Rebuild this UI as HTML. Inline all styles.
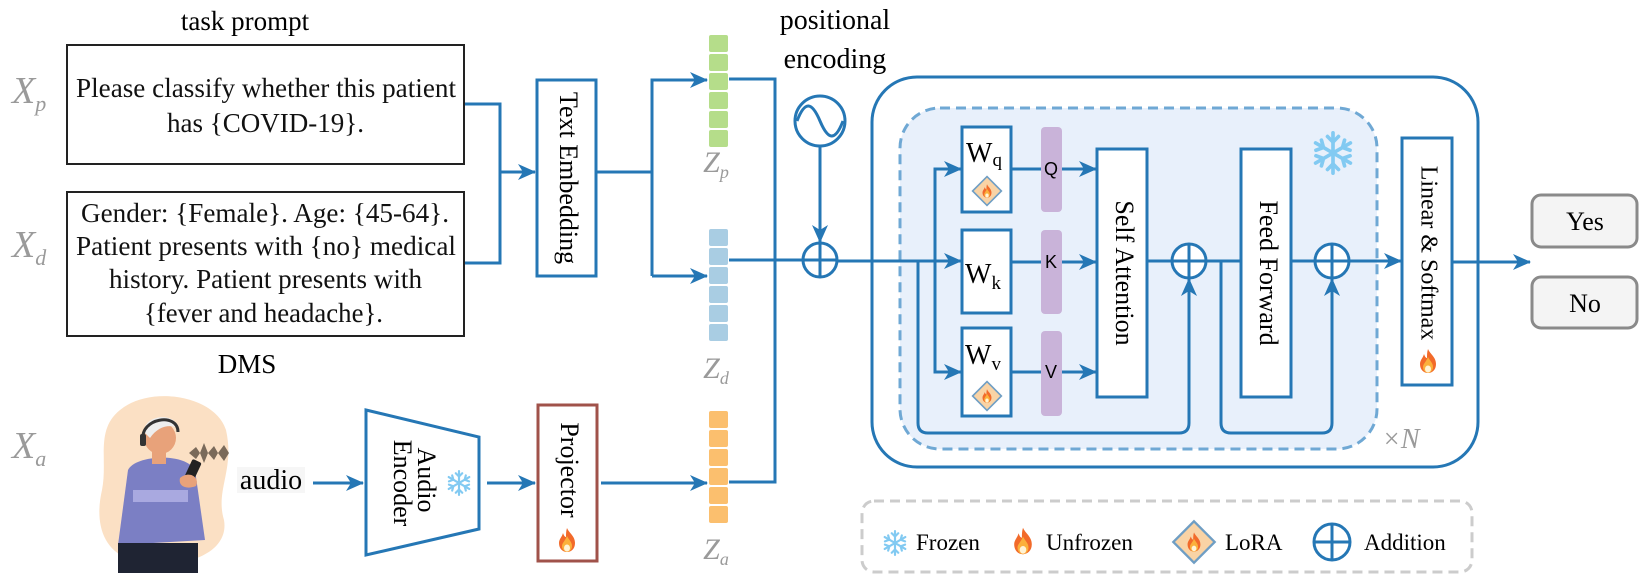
<!DOCTYPE html>
<html><head><meta charset="utf-8"><style>
html,body{margin:0;padding:0;background:#fff;}
svg{display:block;}
</style></head><body>
<svg width="1643" height="575" viewBox="0 0 1643 575" xmlns="http://www.w3.org/2000/svg" font-family="'Liberation Serif', serif">
<defs>
<marker id="ar" markerWidth="18" markerHeight="16" refX="17" refY="8" orient="auto" markerUnits="userSpaceOnUse" viewBox="0 0 18 16">
<path d="M0,0 L18,8 L0,16 L5,8 Z" fill="#2577b5"/></marker>
<symbol id="fire" viewBox="0 0 20 26">
<path d="M10 1 C12 6 18 9 18 16 C18 22 14 25 10 25 C6 25 2 22 2 16 C2 12 5 10 6 6 C7 9 8 10 9 10 C9 7 9 4 10 1Z" fill="#f26a2a"/>
<path d="M10 9 C12 13 15 15 15 19 C15 23 12 25 10 25 C8 25 5 23 5 19 C5 16 8 14 10 9Z" fill="#fbb03b"/>
<ellipse cx="10" cy="21" rx="3" ry="3.5" fill="#fff3d6"/>
</symbol>
<symbol id="snow" viewBox="-12 -12 24 24">
<g stroke="#82caf2" stroke-width="2" stroke-linecap="round" fill="none">
<path d="M0 -11V11M-9.5 -5.5L9.5 5.5M-9.5 5.5L9.5 -5.5"/>
<path d="M-3 -9L0 -6L3 -9M-3 9L0 6L3 9M-9.3 -1.5L-5.2 -3L-6.3 -7M9.3 1.5L5.2 3L6.3 7M-9.3 1.5L-5.2 3L-6.3 7M9.3 -1.5L5.2 -3L6.3 -7"/>
</g></symbol>
<symbol id="lora" viewBox="0 0 40 40">
<path d="M20 2 L38 20 L20 38 L2 20Z" fill="#f9d3a5" stroke="#6f9ec4" stroke-width="2"/>
<use href="#fire" x="13" y="10" width="14" height="20"/>
</symbol>
</defs>

<g fill="none" stroke="#2577b5" stroke-width="3">
<path d="M464 104H500V263H464"/>
<path d="M500 172H535" marker-end="url(#ar)"/>
<path d="M596 172H652"/>
<path d="M706 80H652V276"/>
<path d="M652 80H707" marker-end="url(#ar)"/>
<path d="M652 276H707" marker-end="url(#ar)"/>
<path d="M313 483H363" marker-end="url(#ar)"/>
<path d="M487 483H535" marker-end="url(#ar)"/>
<path d="M601 483H707" marker-end="url(#ar)"/>
<path d="M729 79H775V482H729"/>
<path d="M729 260H803"/>
<path d="M820 147V242" marker-end="url(#ar)"/>
</g>

<rect x="67" y="45" width="397" height="119" fill="#fff" stroke="#222" stroke-width="2"/>
<rect x="67" y="192" width="397" height="144" fill="#fff" stroke="#222" stroke-width="2"/>
<text x="245" y="30" font-size="27" text-anchor="middle">task prompt</text>
<g font-size="27" fill="#111" lengthAdjust="spacingAndGlyphs">
<text x="76" y="97" textLength="380" lengthAdjust="spacingAndGlyphs">Please classify whether this patient</text>
<text x="167" y="132" textLength="197" lengthAdjust="spacingAndGlyphs">has {COVID-19}.</text>
<text x="81" y="222" textLength="368" lengthAdjust="spacingAndGlyphs">Gender: {Female}. Age: {45-64}.</text>
<text x="76" y="255" textLength="380" lengthAdjust="spacingAndGlyphs">Patient presents with {no} medical</text>
<text x="109" y="288" textLength="313" lengthAdjust="spacingAndGlyphs">history. Patient presents with</text>
<text x="144" y="322" textLength="239" lengthAdjust="spacingAndGlyphs">{fever and headache}.</text>
</g>
<text x="247" y="373" font-size="27" text-anchor="middle">DMS</text>
<g font-size="38" font-style="italic" fill="#9a9a9a">
<text x="12" y="103">X<tspan font-size="22" dy="8">p</tspan></text>
<text x="12" y="257">X<tspan font-size="22" dy="8">d</tspan></text>
<text x="12" y="458">X<tspan font-size="22" dy="8">a</tspan></text>
</g>
<rect x="537" y="80" width="59" height="196" fill="#fff" stroke="#2577b5" stroke-width="3"/>
<text transform="translate(566,178) rotate(90)" font-size="26" text-anchor="middle" dominant-baseline="middle">Text Embedding</text>

<g fill="#b5dd8a"><rect x="709" y="35" width="19" height="17" rx="2"/><rect x="709" y="54" width="19" height="17" rx="2"/><rect x="709" y="73" width="19" height="17" rx="2"/><rect x="709" y="92" width="19" height="17" rx="2"/><rect x="709" y="111" width="19" height="17" rx="2"/><rect x="709" y="130" width="19" height="17" rx="2"/></g>
<g fill="#a9cde3"><rect x="709" y="229" width="19" height="17" rx="2"/><rect x="709" y="248" width="19" height="17" rx="2"/><rect x="709" y="267" width="19" height="17" rx="2"/><rect x="709" y="286" width="19" height="17" rx="2"/><rect x="709" y="305" width="19" height="17" rx="2"/><rect x="709" y="324" width="19" height="17" rx="2"/></g>
<g fill="#fbbf6e"><rect x="709" y="411" width="19" height="17" rx="2"/><rect x="709" y="430" width="19" height="17" rx="2"/><rect x="709" y="449" width="19" height="17" rx="2"/><rect x="709" y="468" width="19" height="17" rx="2"/><rect x="709" y="487" width="19" height="17" rx="2"/><rect x="709" y="506" width="19" height="17" rx="2"/></g>
<g font-size="30" font-style="italic" fill="#9a9a9a" text-anchor="middle">
<text x="716" y="172">Z<tspan font-size="18" dy="6">p</tspan></text>
<text x="716" y="378">Z<tspan font-size="18" dy="6">d</tspan></text>
<text x="716" y="559">Z<tspan font-size="18" dy="6">a</tspan></text>
</g>

<path d="M120 410 C150 385 215 395 226 430 C235 470 215 490 224 520 C230 555 180 570 140 562 C100 555 95 520 102 490 C108 460 95 430 120 410Z" fill="#fbe0c4"/>
<path d="M128 470 C135 455 185 452 195 470 L205 540 L118 545Z" fill="#7b7fc4"/>
<rect x="133" y="490" width="55" height="12" fill="#a9a9e0"/>
<rect x="118" y="543" width="80" height="30" fill="#1f2433"/>
<rect x="152" y="450" width="14" height="14" fill="#e8a27a"/>
<circle cx="160" cy="438" r="16" fill="#e8a27a"/>
<path d="M144 432 C144 414 176 412 178 428 C170 424 158 426 150 438Z" fill="#eeeeee"/>
<path d="M143 440 C140 418 178 412 178 432" fill="none" stroke="#333" stroke-width="3"/>
<rect x="140" y="434" width="6" height="12" rx="2" fill="#333"/>
<rect x="188" y="460" width="10" height="20" rx="2" transform="rotate(25 193 470)" fill="#222"/>
<path d="M180 478 C190 470 200 478 196 486 C186 490 178 486 180 478Z" fill="#e8a27a"/>
<path d="M189 453 L196 447 L200 453 L204 443 L208 453 L214 446 L218 453 L224 445 L229 453 L237 453 L229 453 L224 461 L218 453 L214 460 L208 453 L204 463 L200 453 L196 459Z" fill="#7a6a5a"/>
<rect x="237" y="467" width="68" height="26" fill="#f6f6f6"/>
<text x="271" y="489" font-size="28" text-anchor="middle">audio</text>
<path d="M366 410 L479 437 L479 529 L366 555Z" fill="#fff" stroke="#2577b5" stroke-width="3"/>
<text transform="translate(424,480) rotate(90)" font-size="26" text-anchor="middle" dominant-baseline="middle">Audio</text>
<text transform="translate(400,483) rotate(90)" font-size="26" text-anchor="middle" dominant-baseline="middle">Encoder</text>
<use href="#snow" x="446" y="469" width="26" height="28"/>
<rect x="538" y="405" width="59" height="156" fill="#fff" stroke="#a0524a" stroke-width="3"/>
<text transform="translate(567,470) rotate(90)" font-size="26" text-anchor="middle" dominant-baseline="middle">Projector</text>
<use href="#fire" x="557" y="527" width="20" height="26"/>

<text x="835" y="29" font-size="28" text-anchor="middle">positional</text>
<text x="835" y="68" font-size="28" text-anchor="middle">encoding</text>
<circle cx="820" cy="121" r="25" fill="#fff" stroke="#2577b5" stroke-width="3"/>
<path d="M797 121 C805 100 812 102 820 121 C828 140 835 142 843 121" fill="none" stroke="#2577b5" stroke-width="3"/>

<rect x="872" y="77" width="606" height="390" rx="45" fill="#fff" stroke="#2577b5" stroke-width="3"/>
<rect x="900" y="108" width="477" height="341" rx="40" fill="#e8f0fb" stroke="#6fa8d4" stroke-width="3" stroke-dasharray="10 6"/>
<g fill="none" stroke="#2577b5" stroke-width="3">
<path d="M837 261H961" marker-end="url(#ar)"/>
<path d="M960 169H935V372H960"/>
<path d="M935 169H961" marker-end="url(#ar)"/>
<path d="M935 372H961" marker-end="url(#ar)"/>
<path d="M918 261V423Q918 433 928 433H1179Q1189 433 1189 423V279" marker-end="url(#ar)"/>
<path d="M1011 169H1096" marker-end="url(#ar)"/>
<path d="M1011 262H1096" marker-end="url(#ar)"/>
<path d="M1011 372H1096" marker-end="url(#ar)"/>
<path d="M1147 261H1172"/>
<path d="M1206 261H1241"/>
<path d="M1221 261V423Q1221 433 1231 433H1322Q1332 433 1332 423V279" marker-end="url(#ar)"/>
<path d="M1291 261H1315"/>
<path d="M1349 261H1401" marker-end="url(#ar)"/>
<path d="M1452 262H1530" marker-end="url(#ar)"/>
</g>
<g fill="#fff" stroke="#2577b5" stroke-width="3">
<circle cx="820" cy="260" r="17"/><path d="M803 260H837M820 243V277"/>
<circle cx="1189" cy="261" r="17"/><path d="M1172 261H1206M1189 244V278"/>
<circle cx="1332" cy="261" r="17"/><path d="M1315 261H1349M1332 244V278"/>
<rect x="962" y="127" width="49" height="85"/>
<rect x="962" y="230" width="49" height="83"/>
<rect x="962" y="328" width="49" height="88"/>
<rect x="1097" y="149" width="50" height="248"/>
<rect x="1241" y="149" width="50" height="248"/>
<rect x="1402" y="138" width="50" height="247"/>
</g>
<g fill="#c9b3d9"><rect x="1041" y="127" width="21" height="85" rx="4"/><rect x="1041" y="230" width="21" height="84" rx="4"/><rect x="1041" y="331" width="21" height="85" rx="4"/></g>
<g font-family="'Liberation Sans', sans-serif" font-size="18" text-anchor="middle">
<text x="1051" y="175">Q</text>
<text x="1051" y="268">K</text>
<text x="1051" y="378">V</text>
</g>
<g font-size="28">
<text x="966" y="162">W<tspan font-size="19" dy="4">q</tspan></text>
<text x="965" y="283">W<tspan font-size="19" dy="6">k</tspan></text>
<text x="965" y="364">W<tspan font-size="19" dy="6">v</tspan></text>
</g>
<use href="#lora" x="971" y="175" width="32" height="32"/>
<use href="#lora" x="971" y="380" width="32" height="32"/>
<text transform="translate(1122,273) rotate(90)" font-size="26" text-anchor="middle" dominant-baseline="middle">Self Attention</text>
<text transform="translate(1266,273) rotate(90)" font-size="26" text-anchor="middle" dominant-baseline="middle">Feed Forward</text>
<text transform="translate(1427,253) rotate(90)" font-size="24" text-anchor="middle" dominant-baseline="middle">Linear &amp; Softmax</text>
<use href="#fire" x="1418" y="348" width="20" height="26"/>
<use href="#snow" x="1311" y="130" width="44" height="46"/>
<text x="1382" y="448" font-size="28" font-style="italic" fill="#9a9a9a">×N</text>

<rect x="1532" y="195" width="105" height="52" rx="9" fill="#f4f4f4" stroke="#8a8a8a" stroke-width="3"/>
<rect x="1532" y="277" width="105" height="51" rx="9" fill="#f4f4f4" stroke="#8a8a8a" stroke-width="3"/>
<text x="1585" y="230" font-size="26" text-anchor="middle">Yes</text>
<text x="1585" y="312" font-size="26" text-anchor="middle">No</text>

<rect x="862" y="501" width="610" height="71" rx="12" fill="#fff" stroke="#cccccc" stroke-width="3" stroke-dasharray="10 6"/>
<use href="#snow" x="882" y="528" width="26" height="30"/>
<text x="916" y="550" font-size="23">Frozen</text>
<use href="#fire" x="1012" y="526" width="22" height="30"/>
<text x="1046" y="550" font-size="23">Unfrozen</text>
<use href="#lora" x="1171" y="519" width="46" height="46"/>
<text x="1225" y="550" font-size="23">LoRA</text>
<circle cx="1332" cy="542" r="18" fill="#fff" stroke="#2577b5" stroke-width="3"/>
<path d="M1314 542H1350M1332 524V560" stroke="#2577b5" stroke-width="3"/>
<text x="1364" y="550" font-size="23">Addition</text>
</svg>
</body></html>
